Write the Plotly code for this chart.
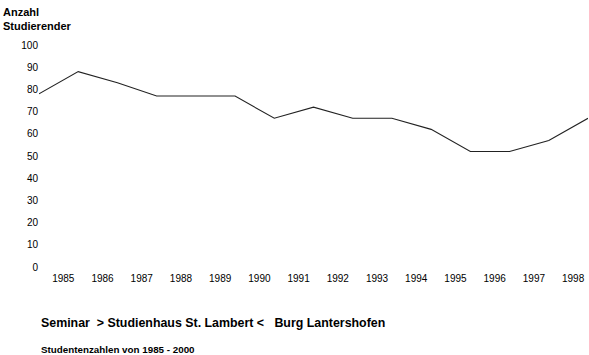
import plotly.graph_objects as go

# Data
years = [1985, 1986, 1987, 1988, 1989, 1990, 1991, 1992, 1993, 1994, 1995, 1996, 1997, 1998]
students = [78, 88, 83, 77, 77, 77, 67, 72, 67, 67, 62, 52, 52, 57, 67]
y_ticks = [0, 10, 20, 30, 40, 50, 60, 70, 80, 90, 100]

point_x = list(range(len(students)))
label_offset = 0.62
tick_pos = [i + label_offset for i in range(len(years))]

W, H = 589, 355
L, R, T, B = 39, 1, 45, 88
pw, ph = W - L - R, H - T - B

def px(x):
    return (x - L) / pw

def py(y):
    return (H - B - y) / ph

fig = go.Figure()
fig.add_trace(go.Scatter(
    x=point_x, y=students, mode="lines",
    line=dict(color="#222222", width=1.1),
    hoverinfo="skip", showlegend=False,
))

font = dict(family="Liberation Sans, Arial, sans-serif", color="black")

fig.update_layout(
    template="none",
    width=W, height=H,
    margin=dict(l=L, r=R, t=T, b=B, autoexpand=False),
    paper_bgcolor="white", plot_bgcolor="white",
    font=dict(**font, size=10),
    xaxis=dict(
        automargin=False,
        range=[0, len(students) - 1],
        tickvals=tick_pos, ticktext=[str(y) for y in years],
        showgrid=False, zeroline=False, showline=False,
        ticks="outside", ticklen=2, tickcolor="white",
        tickfont=dict(**font, size=10),
    ),
    yaxis=dict(
        automargin=False,
        range=[0, 100], tickvals=y_ticks,
        showgrid=False, zeroline=False, showline=False,
        ticks="", 
        tickfont=dict(**font, size=10),
    ),
)

fig.add_annotation(
    x=px(1), y=py(4), xref="paper", yref="paper",
    xanchor="left", yanchor="top", align="left", showarrow=False,
    text="<b>Anzahl<br>Studierender</b>",
    font=dict(**font, size=11),
)
fig.add_annotation(
    x=px(39), y=py(323), xref="paper", yref="paper",
    xanchor="left", yanchor="middle", showarrow=False,
    text="<b>Seminar  &gt; Studienhaus St. Lambert &lt;   Burg Lantershofen</b>",
    font=dict(**font, size=12.4),
)
fig.add_annotation(
    x=px(39), y=py(349), xref="paper", yref="paper",
    xanchor="left", yanchor="middle", showarrow=False,
    text="<b>Studentenzahlen von 1985 - 2000</b>",
    font=dict(**font, size=9.8),
)

fig.write_html(
    "out.html",
    config={"displayModeBar": False},
    post_script="document.body.style.margin='0';document.body.style.overflow='hidden';",
)
